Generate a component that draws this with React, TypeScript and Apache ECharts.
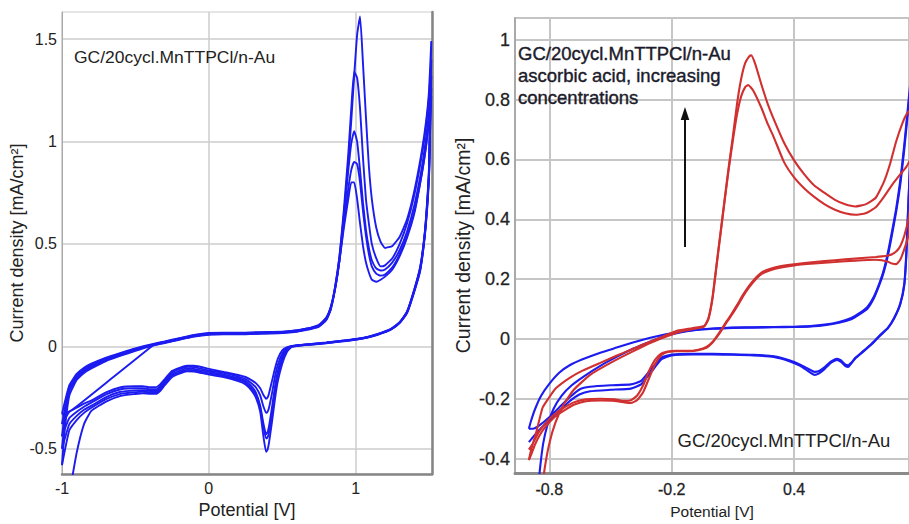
import React, { useEffect, useRef } from "react";
import * as echarts from "echarts";

// ---------- Left panel: GC/20cycl.MnTTPCl/n-Au, 5 cycles ----------
const leftXTicks = [-1, 0, 1];
const leftYTicks = [-0.5, 0, 0.5, 1, 1.5];

const leftFwdX = [-1.0, -0.98, -0.95, -0.9, -0.85, -0.8, -0.7, -0.6, -0.5, -0.4, -0.3, -0.2, -0.1, 0.0, 0.1, 0.2, 0.3, 0.4, 0.5, 0.6, 0.65, 0.7, 0.75, 0.8, 0.83,
  0.86, 0.89, 0.92, 0.95, 0.97, 0.99, 1.01, 1.03, 1.05, 1.07, 1.09, 1.11, 1.14, 1.17, 1.2, 1.25, 1.3, 1.35, 1.4, 1.45, 1.48, 1.5, 1.515];
const leftFwdA = [-0.33, -0.27, -0.19, -0.135, -0.105, -0.085, -0.055, -0.032, -0.01, 0.008, 0.024, 0.04, 0.055, 0.065, 0.066, 0.066, 0.068, 0.07, 0.071, 0.078, 0.085, 0.092, 0.105, 0.14, 0.19,
  0.28, 0.42, 0.64, 0.9, 1.1, 1.32, 1.52, 1.61, 1.38, 1.12, 0.88, 0.72, 0.58, 0.51, 0.48, 0.49, 0.535, 0.62, 0.76, 0.95, 1.1, 1.25, 1.49];
const leftFwdB = [-0.38, -0.3, -0.2, -0.145, -0.112, -0.092, -0.06, -0.036, -0.013, 0.006, 0.022, 0.038, 0.053, 0.062, 0.064, 0.064, 0.066, 0.068, 0.07, 0.077, 0.084, 0.091, 0.103, 0.137, 0.19,
  0.29, 0.44, 0.67, 0.94, 1.16, 1.34, 1.31, 1.16, 0.92, 0.72, 0.6, 0.5, 0.43, 0.39, 0.395, 0.43, 0.5, 0.6, 0.74, 0.93, 1.08, 1.22, 1.4];
const leftFwdC = [-0.44, -0.33, -0.21, -0.152, -0.118, -0.097, -0.064, -0.04, -0.016, 0.004, 0.02, 0.036, 0.051, 0.06, 0.062, 0.062, 0.064, 0.066, 0.068, 0.075, 0.082, 0.089, 0.1, 0.133, 0.185,
  0.29, 0.44, 0.64, 0.86, 0.99, 1.05, 1.0, 0.86, 0.7, 0.57, 0.48, 0.42, 0.38, 0.37, 0.375, 0.41, 0.47, 0.56, 0.69, 0.87, 1.02, 1.15, 1.32];
const leftFwdD = [-0.5, -0.36, -0.22, -0.158, -0.124, -0.102, -0.068, -0.043, -0.019, 0.002, 0.018, 0.034, 0.049, 0.058, 0.06, 0.06, 0.062, 0.064, 0.066, 0.073, 0.08, 0.087, 0.098, 0.13, 0.18,
  0.28, 0.42, 0.6, 0.77, 0.86, 0.9, 0.89, 0.8, 0.66, 0.54, 0.45, 0.39, 0.355, 0.345, 0.35, 0.385, 0.45, 0.54, 0.66, 0.84, 0.98, 1.1, 1.26];
const leftFwdE = [-0.58, -0.4, -0.24, -0.165, -0.13, -0.108, -0.072, -0.046, -0.022, 0.0, 0.016, 0.032, 0.047, 0.056, 0.058, 0.058, 0.06, 0.062, 0.064, 0.071, 0.078, 0.085, 0.096, 0.128, 0.178,
  0.28, 0.42, 0.58, 0.72, 0.8, 0.8, 0.72, 0.6, 0.49, 0.41, 0.36, 0.325, 0.315, 0.325, 0.34, 0.375, 0.44, 0.53, 0.65, 0.84, 0.98, 1.12, 1.22];

const leftRevX = [1.515, 1.51, 1.505, 1.5, 1.49, 1.47, 1.44, 1.4, 1.35, 1.3, 1.24, 1.15, 1.08, 1.0, 0.9, 0.8, 0.7, 0.62,
  0.56, 0.53, 0.5, 0.47, 0.45, 0.43, 0.41, 0.4, 0.39, 0.37, 0.35, 0.32, 0.29, 0.25, 0.2, 0.1, 0.0, -0.1, -0.15, -0.2, -0.25, -0.3, -0.33, -0.36, -0.4, -0.45, -0.5, -0.6, -0.7, -0.8, -0.85, -0.9, -0.95, -1.0];
const leftRev1 = [1.49, 1.3, 1.08, 0.88, 0.74, 0.55, 0.39, 0.28, 0.17, 0.118, 0.085, 0.06, 0.046, 0.036, 0.027, 0.019, 0.012, 0.007,
  0.0, -0.005, -0.02, -0.06, -0.11, -0.17, -0.23, -0.25, -0.256, -0.235, -0.205, -0.18, -0.165, -0.15, -0.14, -0.125, -0.11, -0.095, -0.095, -0.105, -0.12, -0.16, -0.185, -0.2, -0.2, -0.195, -0.195, -0.2, -0.225, -0.265, -0.28, -0.3, -0.32, -0.38];
const leftRev2 = [1.4, 1.25, 1.05, 0.86, 0.73, 0.545, 0.385, 0.277, 0.168, 0.117, 0.084, 0.059, 0.045, 0.035, 0.026, 0.018, 0.011, 0.006,
  0.0, -0.01, -0.035, -0.09, -0.15, -0.23, -0.3, -0.32, -0.325, -0.29, -0.24, -0.2, -0.18, -0.16, -0.148, -0.13, -0.118, -0.102, -0.1, -0.112, -0.128, -0.168, -0.195, -0.21, -0.21, -0.205, -0.205, -0.21, -0.235, -0.275, -0.295, -0.32, -0.35, -0.44];
const leftRev3 = [1.32, 1.2, 1.02, 0.85, 0.72, 0.54, 0.38, 0.274, 0.166, 0.116, 0.083, 0.058, 0.044, 0.034, 0.025, 0.017, 0.01, 0.005,
  -0.002, -0.015, -0.05, -0.12, -0.2, -0.3, -0.39, -0.42, -0.43, -0.37, -0.29, -0.225, -0.195, -0.17, -0.156, -0.137, -0.125, -0.11, -0.108, -0.12, -0.136, -0.176, -0.203, -0.218, -0.218, -0.214, -0.215, -0.222, -0.248, -0.29, -0.31, -0.34, -0.38, -0.5];
const leftRev4 = [1.26, 1.15, 1.0, 0.84, 0.71, 0.535, 0.375, 0.271, 0.164, 0.115, 0.082, 0.057, 0.043, 0.033, 0.024, 0.016, 0.009, 0.004,
  -0.003, -0.02, -0.065, -0.14, -0.22, -0.33, -0.42, -0.445, -0.45, -0.39, -0.3, -0.235, -0.205, -0.178, -0.163, -0.144, -0.132, -0.117, -0.115, -0.127, -0.143, -0.183, -0.21, -0.225, -0.225, -0.222, -0.224, -0.232, -0.258, -0.3, -0.325, -0.36, -0.41, -0.58];
const leftRev5 = [1.22, 1.12, 0.98, 0.83, 0.7, 0.53, 0.37, 0.268, 0.162, 0.114, 0.081, 0.056, 0.042, 0.032, 0.023, 0.015, 0.008, 0.003,
  -0.005, -0.03, -0.085, -0.17, -0.26, -0.37, -0.47, -0.505, -0.515, -0.43, -0.32, -0.25, -0.215, -0.186, -0.17, -0.15, -0.138, -0.123, -0.122, -0.134, -0.15, -0.19, -0.217, -0.232, -0.232, -0.23, -0.233, -0.242, -0.27, -0.315, -0.38, -0.52, -0.72, -0.9];

const leftInitX = [-0.38, -0.65, -0.93, -1.0];
const leftInitY = [0.005, -0.15, -0.31, -0.335];

// ---------- Right panel: ascorbic acid ----------
const rightXTicks = [-0.8, -0.2, 0.4];
const rightYTicks = [-0.4, -0.2, 0, 0.2, 0.4, 0.6, 0.8, 1];

const blueFwd1: number[][] = [[-0.855, -0.5], [-0.845, -0.43], [-0.83, -0.35], [-0.81, -0.29], [-0.78, -0.235], [-0.74, -0.19], [-0.69, -0.155], [-0.63, -0.125], [-0.55, -0.09], [-0.47, -0.06], [-0.39, -0.033], [-0.31, -0.01], [-0.24, 0.008], [-0.17, 0.02], [-0.1, 0.028], [0.0, 0.034], [0.1, 0.037], [0.2, 0.038], [0.3, 0.039], [0.4, 0.04], [0.48, 0.042], [0.55, 0.046], [0.62, 0.054], [0.68, 0.066], [0.72, 0.082], [0.76, 0.102], [0.79, 0.135], [0.82, 0.185], [0.84, 0.225], [0.86, 0.28], [0.88, 0.35], [0.9, 0.425], [0.92, 0.515], [0.94, 0.635], [0.96, 0.775], [0.98, 0.91], [1.0, 1.05]];
const blueFwd2: number[][] = [[-0.9, -0.3], [-0.89, -0.275], [-0.87, -0.235], [-0.84, -0.19], [-0.8, -0.15], [-0.75, -0.112], [-0.7, -0.088], [-0.64, -0.069], [-0.55, -0.046], [-0.47, -0.029], [-0.39, -0.012], [-0.31, 0.003], [-0.24, 0.014], [-0.17, 0.022], [-0.1, 0.029], [0.0, 0.035], [0.1, 0.038], [0.2, 0.039], [0.3, 0.04], [0.4, 0.041], [0.48, 0.043], [0.55, 0.048], [0.62, 0.057], [0.68, 0.07], [0.72, 0.086], [0.76, 0.108], [0.79, 0.14], [0.82, 0.19], [0.84, 0.232], [0.86, 0.29], [0.88, 0.36], [0.9, 0.435], [0.92, 0.528], [0.94, 0.65], [0.96, 0.79], [0.98, 0.93], [1.0, 1.07]];
const blueRevX = [1.0, 0.98, 0.97, 0.96, 0.95, 0.94, 0.92, 0.89, 0.86, 0.82, 0.78, 0.74, 0.7, 0.68, 0.665, 0.65, 0.63, 0.61, 0.58, 0.55, 0.52, 0.5, 0.47, 0.43, 0.38, 0.3, 0.2, 0.1, 0.0, -0.1, -0.2, -0.25, -0.3, -0.35, -0.4, -0.5, -0.6, -0.65, -0.7, -0.75, -0.8, -0.85, -0.88, -0.9];
const blueRev1 = [1.05, 0.75, 0.6, 0.45, 0.28, 0.18, 0.115, 0.068, 0.036, 0.01, -0.018, -0.042, -0.065, -0.08, -0.088, -0.085, -0.072, -0.066, -0.076, -0.094, -0.108, -0.11, -0.1, -0.086, -0.072, -0.058, -0.053, -0.051, -0.05, -0.05, -0.052, -0.062, -0.1, -0.14, -0.152, -0.155, -0.16, -0.168, -0.195, -0.228, -0.262, -0.29, -0.3, -0.3];
const blueRev2 = [1.07, 0.76, 0.61, 0.46, 0.29, 0.185, 0.118, 0.07, 0.038, 0.012, -0.016, -0.04, -0.063, -0.082, -0.094, -0.09, -0.077, -0.07, -0.08, -0.1, -0.116, -0.12, -0.108, -0.09, -0.075, -0.06, -0.055, -0.053, -0.052, -0.052, -0.055, -0.068, -0.11, -0.152, -0.166, -0.17, -0.175, -0.185, -0.208, -0.24, -0.272, -0.305, -0.328, -0.345];

const redFwd1: number[][] = [[-0.835, -0.5], [-0.822, -0.43], [-0.8, -0.35], [-0.77, -0.28], [-0.73, -0.22], [-0.68, -0.17], [-0.6, -0.12], [-0.5, -0.08], [-0.4, -0.045], [-0.3, -0.012], [-0.22, 0.01], [-0.15, 0.026], [-0.08, 0.035], [-0.04, 0.042], [-0.02, 0.066], [0.0, 0.135], [0.02, 0.245], [0.04, 0.355], [0.06, 0.465], [0.08, 0.57], [0.1, 0.665], [0.12, 0.75], [0.14, 0.81], [0.16, 0.842], [0.175, 0.849], [0.2, 0.83], [0.24, 0.772], [0.27, 0.72], [0.3, 0.675], [0.35, 0.592], [0.4, 0.54], [0.45, 0.503], [0.5, 0.474], [0.55, 0.45], [0.6, 0.432], [0.65, 0.42], [0.7, 0.415], [0.75, 0.42], [0.8, 0.44], [0.84, 0.475], [0.88, 0.515], [0.92, 0.55], [0.95, 0.575], [0.97, 0.6], [1.0, 0.62]];
const redFwd2: number[][] = [[-0.9, -0.405], [-0.885, -0.36], [-0.866, -0.318], [-0.833, -0.23], [-0.8, -0.195], [-0.768, -0.165], [-0.7, -0.13], [-0.637, -0.106], [-0.55, -0.08], [-0.474, -0.057], [-0.4, -0.036], [-0.343, -0.019], [-0.25, 0.006], [-0.17, 0.028], [-0.1, 0.036], [-0.04, 0.044], [-0.02, 0.07], [0.0, 0.14], [0.02, 0.25], [0.04, 0.36], [0.06, 0.47], [0.08, 0.578], [0.1, 0.678], [0.12, 0.785], [0.14, 0.868], [0.16, 0.922], [0.18, 0.945], [0.19, 0.948], [0.21, 0.918], [0.24, 0.85], [0.27, 0.787], [0.3, 0.735], [0.35, 0.657], [0.4, 0.597], [0.45, 0.55], [0.5, 0.512], [0.55, 0.488], [0.6, 0.465], [0.65, 0.45], [0.7, 0.443], [0.75, 0.45], [0.8, 0.472], [0.84, 0.525], [0.87, 0.585], [0.9, 0.66], [0.93, 0.72], [0.95, 0.75], [0.97, 0.765], [1.0, 0.77]];
const redRevX = [1.0, 0.97, 0.96, 0.94, 0.92, 0.9, 0.88, 0.86, 0.83, 0.8, 0.7, 0.6, 0.5, 0.4, 0.33, 0.28, 0.24, 0.21, 0.18, 0.15, 0.12, 0.09, 0.06, 0.04, 0.02, 0.0, -0.03, -0.07, -0.12, -0.18, -0.22, -0.25, -0.28, -0.31, -0.34, -0.37, -0.4, -0.43, -0.48, -0.55, -0.62, -0.68, -0.74, -0.78, -0.82, -0.85, -0.87, -0.885, -0.9];
const redRev1 = [0.62, 0.4, 0.345, 0.3, 0.265, 0.25, 0.252, 0.258, 0.263, 0.265, 0.262, 0.257, 0.252, 0.246, 0.238, 0.229, 0.217, 0.198, 0.173, 0.143, 0.108, 0.076, 0.046, 0.024, 0.005, -0.012, -0.03, -0.038, -0.041, -0.041, -0.044, -0.054, -0.082, -0.13, -0.178, -0.205, -0.214, -0.212, -0.207, -0.206, -0.208, -0.22, -0.245, -0.265, -0.295, -0.325, -0.353, -0.38, -0.405];
const redRev2 = [0.77, 0.45, 0.4, 0.345, 0.31, 0.292, 0.283, 0.279, 0.276, 0.274, 0.269, 0.263, 0.257, 0.25, 0.243, 0.234, 0.222, 0.203, 0.178, 0.148, 0.113, 0.08, 0.05, 0.028, 0.008, -0.01, -0.027, -0.036, -0.04, -0.04, -0.042, -0.048, -0.068, -0.105, -0.155, -0.19, -0.205, -0.207, -0.202, -0.2, -0.202, -0.212, -0.235, -0.255, -0.283, -0.31, -0.335, -0.355, -0.37];

const BLUE = "#1c1cf0";
const RED = "#d03030";
const FONT = "'Liberation Sans', Arial, sans-serif";

const zip = (xs: number[], ys: number[]) => xs.map((x, i) => [x, ys[i]]);

function cvSeries(name: string, data: number[][], color: string, axis: number, width: number) {
  return {
    name,
    type: "line",
    xAxisIndex: axis,
    yAxisIndex: axis,
    data,
    showSymbol: false,
    symbol: "none",
    smooth: 0.15,
    clip: true,
    lineStyle: { color, width },
    z: 3,
  };
}

export default function App() {
  const ref = useRef<HTMLDivElement>(null);
  useEffect(() => {
    if (!ref.current) return;
    const chart = echarts.init(ref.current, undefined, { renderer: "svg" });
    const leftFwd = [leftFwdA, leftFwdB, leftFwdC, leftFwdD, leftFwdE];
    const leftRev = [leftRev1, leftRev2, leftRev3, leftRev4, leftRev5];
    const series: any[] = [];
    series.push(cvSeries("start", zip(leftInitX, leftInitY), BLUE, 0, 1.9));
    for (let i = 0; i < 5; i++) {
      series.push(
        cvSeries("cycle " + (i + 1), zip(leftFwdX, leftFwd[i]).concat(zip(leftRevX, leftRev[i])), BLUE, 0, 1.9)
      );
    }
    series.push(cvSeries("blank 1", blueFwd1.concat(zip(blueRevX, blueRev1)), BLUE, 1, 2.1));
    series.push(cvSeries("blank 2", blueFwd2.concat(zip(blueRevX, blueRev2)), BLUE, 1, 2.1));
    series.push(cvSeries("AA 1", redFwd1.concat(zip(redRevX, redRev1)), RED, 1, 2.1));
    series.push(cvSeries("AA 2", redFwd2.concat(zip(redRevX, redRev2)), RED, 1, 2.1));

    const gridLine = { show: true, lineStyle: { color: "#cdcdcd", width: 1.5 } };
    const gridLineR = { show: true, lineStyle: { color: "#c6c6c6", width: 2 } };

    chart.setOption({
      animation: false,
      backgroundColor: "#ffffff",
      textStyle: { fontFamily: FONT },
      grid: [
        { left: 62, top: 12, width: 370, height: 467, show: true, borderColor: "#cccccc", borderWidth: 1 },
        { left: 515, top: 18, width: 394, height: 467, show: true, borderColor: "#c4c4c4", borderWidth: 2 },
      ],
      xAxis: [
        {
          type: "value", gridIndex: 0, min: -1, max: 1.52,
          axisLine: { show: true, onZero: false, lineStyle: { color: "#858585", width: 2.5 } },
          axisTick: { show: false, customValues: leftXTicks },
          axisLabel: { customValues: leftXTicks, fontSize: 16, color: "#222", margin: 6, fontFamily: FONT },
          splitLine: gridLine,
          name: "Potential [V]", nameLocation: "middle", nameGap: 22,
          nameTextStyle: { fontSize: 18, color: "#222", fontFamily: FONT },
        },
        {
          type: "value", gridIndex: 1, min: -0.968, max: 0.963,
          axisLine: { show: true, onZero: false, lineStyle: { color: "#8a8a8a", width: 3 } },
          axisTick: { show: false, customValues: rightXTicks },
          axisLabel: { customValues: rightXTicks, fontSize: 16, color: "#222", margin: 9, fontFamily: FONT, textBorderColor: "#444", textBorderWidth: 0.3 },
          splitLine: gridLineR,
          name: "Potential [V]", nameLocation: "middle", nameGap: 27,
          nameTextStyle: { fontSize: 15.5, color: "#222", fontFamily: FONT },
        },
      ],
      yAxis: [
        {
          type: "value", gridIndex: 0, min: -0.624, max: 1.632,
          axisLine: { show: true, onZero: false, lineStyle: { color: "#aaaaaa", width: 1 } },
          axisTick: { show: false, customValues: leftYTicks },
          axisLabel: { customValues: leftYTicks, fontSize: 16, color: "#222", margin: 5, fontFamily: FONT },
          splitLine: gridLine,
          name: "Current density [mA/cm²]", nameLocation: "middle", nameGap: 35,
          nameTextStyle: { fontSize: 18, color: "#222", fontFamily: FONT },
        },
        {
          type: "value", gridIndex: 1, min: -0.448, max: 1.073,
          axisLine: { show: true, onZero: false, lineStyle: { color: "#a0a0a0", width: 1.5 } },
          axisTick: { show: false, customValues: rightYTicks },
          axisLabel: { customValues: rightYTicks, fontSize: 18, color: "#222", margin: 5, fontFamily: FONT, textBorderColor: "#444", textBorderWidth: 0.3 },
          splitLine: gridLineR,
          name: "Current density [mA/cm²]", nameLocation: "middle", nameGap: 42,
          nameTextStyle: { fontSize: 19.5, color: "#222", fontFamily: FONT },
        },
        {
          type: "value", gridIndex: 0, position: "right", min: -0.624, max: 1.632,
          axisLine: { show: true, onZero: false, lineStyle: { color: "#858585", width: 2.5 } },
          axisTick: { show: false }, axisLabel: { show: false }, splitLine: { show: false },
        },
      ],
      graphic: [
        {
          type: "text", x: 74, y: 58, scaleX: 1.06, z: 10,
          style: { text: "GC/20cycl.MnTTPCl/n-Au", fill: "#222", fontSize: 16.5, fontFamily: FONT, verticalAlign: "middle" },
        },
        {
          type: "text", x: 518, y: 53, z: 10,
          style: { text: "GC/20cycl.MnTTPCl/n-Au", fill: "#1b1b2b", fontSize: 18.5, fontFamily: FONT, verticalAlign: "middle", stroke: "#1b1b2b", lineWidth: 0.4 },
        },
        {
          type: "text", x: 518, y: 75.5, z: 10,
          style: { text: "ascorbic acid, increasing", fill: "#1b1b2b", fontSize: 18.5, fontFamily: FONT, verticalAlign: "middle", stroke: "#1b1b2b", lineWidth: 0.4 },
        },
        {
          type: "text", x: 518, y: 97.5, z: 10,
          style: { text: "concentrations", fill: "#1b1b2b", fontSize: 18.5, fontFamily: FONT, verticalAlign: "middle", stroke: "#1b1b2b", lineWidth: 0.4 },
        },
        {
          type: "text", x: 677.5, y: 440.5, z: 10,
          style: { text: "GC/20cycl.MnTTPCl/n-Au", fill: "#222", fontSize: 18.5, fontFamily: FONT, verticalAlign: "middle" },
        },
        {
          type: "line", z: 10,
          shape: { x1: 685, y1: 247, x2: 685, y2: 117 },
          style: { stroke: "#111", lineWidth: 2 },
        },
        {
          type: "polygon", z: 10,
          shape: { points: [[680.7, 120], [685, 107], [689.3, 120]] },
          style: { fill: "#111" },
        },
      ],
      series,
    });
    return () => chart.dispose();
  }, []);
  return (
    <div
      ref={ref}
      style={{ position: "fixed", left: 0, top: 0, width: 909, height: 524, background: "#fff" }}
    />
  );
}
